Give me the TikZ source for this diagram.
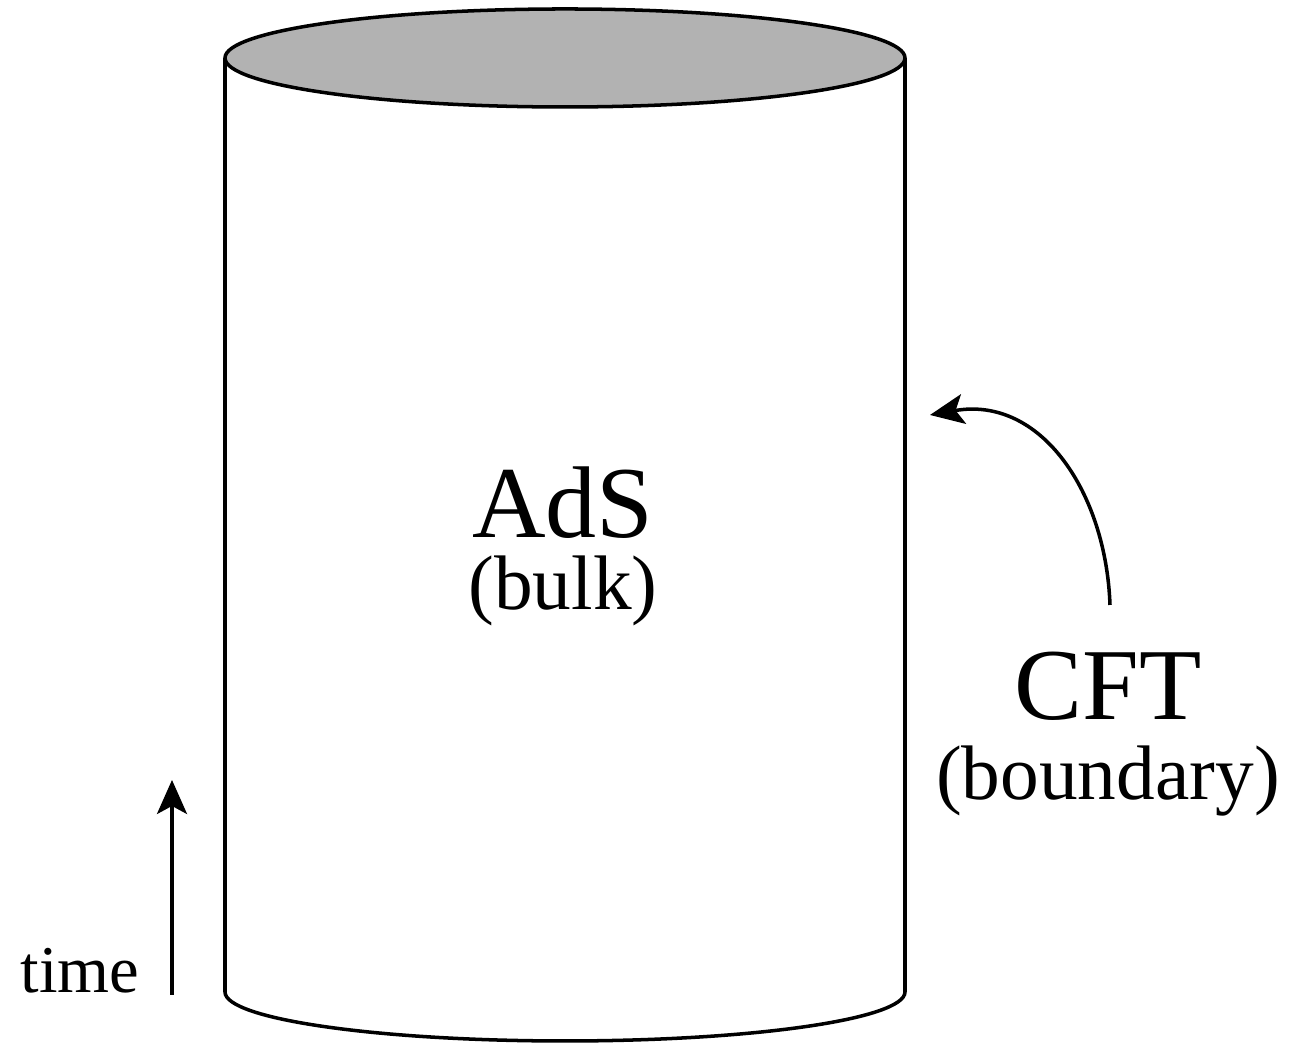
\documentclass[tikz,border=0pt]{standalone}
\usepackage{fontspec}
\setmainfont{Liberation Serif}
\usetikzlibrary{arrows.meta}

\tikzset{
  wall/.style={line width=1pt},
  bigtext/.style={font=\fontsize{29}{32}\selectfont, anchor=base, inner sep=0pt},
  smalltext/.style={font=\fontsize{22}{26}\selectfont, anchor=base, inner sep=0pt},
  arr/.style={line width=1pt, -{Stealth[length=3.4mm,width=3mm,inset=0.8mm]}}
}

\begin{document}
\begin{tikzpicture}

  \useasboundingbox (0,0) rectangle (13.12,10.46);

  % the cylinder
  \coordinate (top) at (5.65,9.88);
  \coordinate (bot) at (5.65,0.54);
  \draw[wall] ([xshift=-3.4cm]top) -- ([xshift=-3.4cm]bot)
    arc[start angle=180,end angle=360,x radius=3.4cm,y radius=0.49cm]
    -- ([xshift=3.4cm]top);
  \draw[wall,fill=black!30] (top) ellipse[x radius=3.4cm,y radius=0.49cm];

  \node[bigtext] (ads) at (5.63,5.08) {AdS};
  \node[smalltext] (bulk) at (5.63,4.36) {(bulk)};

  \node[bigtext] (cft) at (11.08,3.26) {CFT};
  \node[smalltext] (bdy) at (11.08,2.46) {(boundary)};

  \node[font=\fontsize{19}{22}\selectfont, anchor=base, inner sep=0pt] (time) at (0.80,0.53) {time};

  \coordinate (t0) at (1.72,0.51);
  \coordinate (t1) at (1.72,2.66);
  \draw[arr] (t0) -- (t1);

  \coordinate (c0) at (11.10,4.41);
  \coordinate (c1) at (9.30,6.31);
  \draw[arr] (c0) to[out=92,in=10,looseness=1.1] (c1);

\end{tikzpicture}
\end{document}
